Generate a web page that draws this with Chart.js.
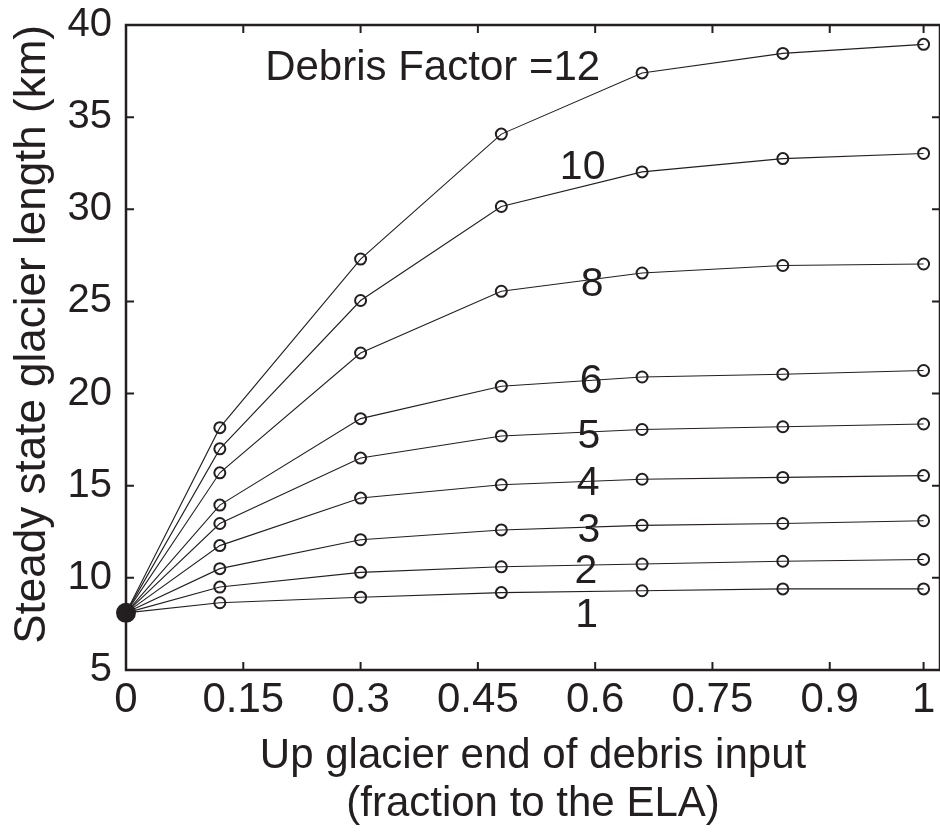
<!DOCTYPE html>
<html>
<head>
<meta charset="utf-8">
<script src="https://cdn.jsdelivr.net/npm/chart.js@4"></script>
<style>
  html, body { margin: 0; padding: 0; background: #fff; overflow: hidden; }
  canvas { display: block; }
</style>
</head>
<body>
<canvas id="glacierChart" width="940" height="833"></canvas>
<script>
// x = up glacier end of debris input, fraction to the ELA
const xValues = [0, 0.12, 0.3, 0.48, 0.66, 0.84, 1.02];
const debrisFactors = [1, 2, 3, 4, 5, 6, 8, 10, 12];

// steady state glacier length (km), one list per debris factor
const df1 = [8.1, 8.65, 8.95, 9.2, 9.3, 9.4, 9.4];
const df2 = [8.1, 9.5, 10.3, 10.6, 10.75, 10.9, 11.0];
const df3 = [8.1, 10.5, 12.07, 12.6, 12.85, 12.95, 13.1];
const df4 = [8.1, 11.75, 14.33, 15.05, 15.35, 15.45, 15.55];
const df5 = [8.1, 12.95, 16.5, 17.7, 18.05, 18.2, 18.35];
const df6 = [8.1, 13.95, 18.64, 20.4, 20.9, 21.05, 21.25];
const df8 = [8.1, 15.7, 22.2, 25.55, 26.54, 26.95, 27.03];
const df10 = [8.1, 17.0, 25.05, 30.15, 32.03, 32.75, 33.03];
const df12 = [8.1, 18.15, 27.3, 34.08, 37.4, 38.46, 38.95];
const seriesList = [df1, df2, df3, df4, df5, df6, df8, df10, df12];

// axis ticks
const xTickValues = [0, 0.15, 0.3, 0.45, 0.6, 0.75, 0.9, 1.02];
const xTickLabels = ["0", "0.15", "0.3", "0.45", "0.6", "0.75", "0.9", "1"];
const yTickValues = [5, 10, 15, 20, 25, 30, 35, 40];

// text written beside the curves (x, y in data units)
const curveLabels = ["1", "2", "3", "4", "5", "6", "8", "10", "Debris Factor =12"];
const curveLabelX = [0.589, 0.588, 0.592, 0.591, 0.592, 0.595, 0.596, 0.584, 0.178];
const curveLabelY = [7.93, 10.33, 12.55, 15.1, 17.66, 20.65, 25.92, 32.28, 37.66];

const INK = "#231f20";
const FONT = "'Liberation Sans', Arial, Helvetica, sans-serif";

const datasets = seriesList.map((vals, k) => ({
  label: "Debris factor " + debrisFactors[k],
  data: xValues.map((x, i) => ({ x: x, y: vals[i] })),
  borderColor: INK,
  borderWidth: 1.1,
  pointRadius: ctx => (ctx.dataIndex === 0 ? 0 : 5.5),
  pointBorderWidth: 2,
  pointBorderColor: INK,
  pointBackgroundColor: "rgba(0,0,0,0)",
  pointHoverRadius: 5.5,
  tension: 0,
  clip: false,
}));

// common starting point of all curves
datasets.push({
  label: "start",
  data: [{ x: xValues[0], y: df1[0] }],
  showLine: false,
  pointRadius: 10,
  pointBackgroundColor: INK,
  pointBorderColor: INK,
  pointBorderWidth: 0,
  clip: false,
});

// box round the plot with inward ticks, and the curve labels
const framePlugin = {
  id: "frame",
  afterDatasetsDraw(chart) {
    const { ctx, chartArea: a, scales } = chart;
    ctx.save();
    ctx.strokeStyle = INK;
    ctx.lineWidth = 2.5;
    ctx.strokeRect(a.left, a.top, a.right - a.left, a.bottom - a.top);
    ctx.lineWidth = 2;
    ctx.beginPath();
    xTickValues.forEach(v => {
      const px = scales.x.getPixelForValue(v);
      ctx.moveTo(px, a.bottom); ctx.lineTo(px, a.bottom - 8);
      ctx.moveTo(px, a.top); ctx.lineTo(px, a.top + 8);
    });
    yTickValues.forEach(v => {
      const py = scales.y.getPixelForValue(v);
      ctx.moveTo(a.left, py); ctx.lineTo(a.left + 8, py);
      ctx.moveTo(a.right, py); ctx.lineTo(a.right - 8, py);
    });
    ctx.stroke();

    ctx.fillStyle = INK;
    ctx.textBaseline = "middle";
    curveLabels.forEach((t, i) => {
      const last = i === curveLabels.length - 1;
      ctx.textAlign = last ? "left" : "center";
      ctx.font = (last ? 42 : 41) + "px " + FONT;
      ctx.fillText(t, scales.x.getPixelForValue(curveLabelX[i]), scales.y.getPixelForValue(curveLabelY[i]));
    });
    ctx.restore();
  },
};

new Chart(document.getElementById("glacierChart"), {
  type: "line",
  data: { datasets: datasets },
  plugins: [framePlugin],
  options: {
    responsive: false,
    animation: false,
    devicePixelRatio: 1,
    layout: { autoPadding: false, padding: { top: 25, right: 0, left: 0, bottom: 0 } },
    plugins: { legend: { display: false }, tooltip: { enabled: false } },
    scales: {
      x: {
        type: "linear",
        min: 0,
        max: 1.041,
        afterBuildTicks: s => { s.ticks = xTickValues.map(v => ({ value: v })); },
        afterFit: s => { s.height = 163; s.paddingLeft = 0; s.paddingRight = 0; },
        grid: { display: false, drawTicks: false },
        border: { display: false },
        ticks: {
          color: INK,
          font: { family: FONT, size: 42 },
          padding: 5,
          maxRotation: 0,
          autoSkip: false,
          callback: (v, i) => xTickLabels[i],
        },
        title: {
          display: true,
          text: ["Up glacier end of debris input", "(fraction to the ELA)"],
          color: INK,
          font: { family: FONT, size: 42, lineHeight: 1.15 },
          padding: { top: 0, bottom: 4 },
        },
      },
      y: {
        min: 5,
        max: 40,
        afterBuildTicks: s => { s.ticks = yTickValues.map(v => ({ value: v })); },
        afterFit: s => { s.width = 126; s.paddingTop = 0; s.paddingBottom = 0; },
        grid: { display: false, drawTicks: false },
        border: { display: false },
        ticks: {
          color: INK,
          font: { family: FONT, size: 40 },
          padding: 14,
          callback: v => String(v),
        },
        title: {
          display: true,
          align: "end",
          text: "Steady state glacier length (km)",
          color: INK,
          font: { family: FONT, size: 44, lineHeight: 1.2 },
          padding: { top: 6, bottom: 0 },
        },
      },
    },
  },
});
</script>
</body>
</html>
